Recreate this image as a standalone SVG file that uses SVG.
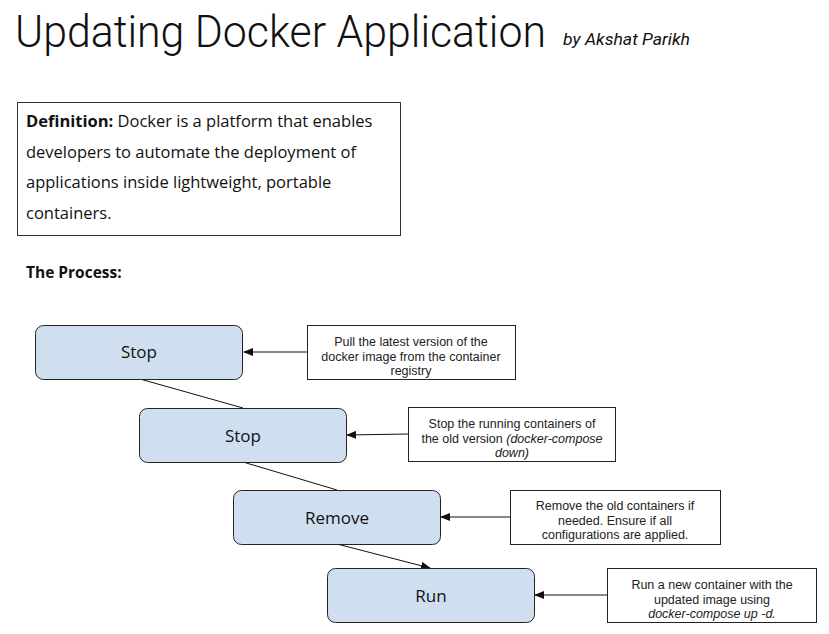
<svg xmlns="http://www.w3.org/2000/svg" width="829" height="634" viewBox="0 0 829 634">
<style>
text{font-family:"Open Sans","Noto Sans",sans-serif;fill:#111}
.node rect{fill:#cfdff0;stroke:#222;stroke-width:1}
.node text{font-size:17px;text-anchor:middle}
.note rect{fill:#fff;stroke:#222;stroke-width:1}
.note text{font-family:"Liberation Sans",Arial,sans-serif;font-size:12.5px;text-anchor:middle;fill:#222}
.conn line{stroke:#111;stroke-width:1}
</style>
<defs>
<marker id="ah" markerWidth="10" markerHeight="8" refX="9" refY="4" orient="auto" markerUnits="userSpaceOnUse">
<path d="M0,0 L10,4 L0,8 Z" fill="#111"/>
</marker>
</defs>
<rect width="829" height="634" fill="#fff"/>
<text x="15" y="47" font-size="44" font-weight="300" textLength="531" lengthAdjust="spacingAndGlyphs" style="font-family:Roboto,'Open Sans',sans-serif">Updating Docker Application</text>
<text x="563" y="45" font-size="16" font-style="italic" textLength="127" lengthAdjust="spacingAndGlyphs" fill="#333" style="font-family:Roboto,sans-serif">by Akshat Parikh</text>
<g id="definition">
<rect x="17.5" y="102.5" width="383" height="133" fill="#fff" stroke="#333"/>
<text x="26" y="127" font-size="16.5"><tspan font-weight="bold">Definition:</tspan> Docker is a platform that enables</text>
<text x="26" y="158" font-size="16.5">developers to automate the deployment of</text>
<text x="26" y="188" font-size="16.5">applications inside lightweight, portable</text>
<text x="26" y="219" font-size="16.5">containers.</text>
</g>
<text x="26" y="278" font-size="15.5" font-weight="bold">The Process:</text>
<g class="conn">
<line x1="140" y1="379" x2="243" y2="408"/>
<line x1="243" y1="462" x2="337" y2="490"/>
<line x1="337" y1="544" x2="430" y2="568" marker-end="url(#ah)"/>
<line x1="307" y1="352" x2="244" y2="352" marker-end="url(#ah)"/>
<line x1="408" y1="434" x2="347" y2="435" marker-end="url(#ah)"/>
<line x1="510" y1="517" x2="441" y2="517" marker-end="url(#ah)"/>
<line x1="607" y1="595" x2="535" y2="595" marker-end="url(#ah)"/>
</g>
<g id="n1" class="node"><rect x="35.5" y="325.5" width="207" height="54" rx="8"/><text x="139" y="358">Stop</text></g>
<g id="n2" class="node"><rect x="139.5" y="408.5" width="207" height="54" rx="8"/><text x="243" y="442">Stop</text></g>
<g id="n3" class="node"><rect x="233.5" y="490.5" width="207" height="54" rx="8"/><text x="337" y="524">Remove</text></g>
<g id="n4" class="node"><rect x="327.5" y="568.5" width="207" height="54" rx="8"/><text x="431" y="602">Run</text></g>
<g id="note1" class="note"><rect x="307.5" y="325.5" width="208" height="54"/>
<text x="411" y="346">Pull the latest version of the</text>
<text x="411" y="361">docker image from the container</text>
<text x="411" y="375">registry</text></g>
<g id="note2" class="note"><rect x="408.5" y="407.5" width="207" height="54"/>
<text x="512" y="428">Stop the running containers of</text>
<text x="512" y="443">the old version <tspan font-style="italic">(docker-compose</tspan></text>
<text x="512" y="457" font-style="italic">down)</text></g>
<g id="note3" class="note"><rect x="510.5" y="490.5" width="210" height="54"/>
<text x="615" y="510">Remove the old containers if</text>
<text x="615" y="525">needed. Ensure if all</text>
<text x="615" y="539">configurations are applied.</text></g>
<g id="note4" class="note"><rect x="607.5" y="568.5" width="209" height="54"/>
<text x="712" y="589">Run a new container with the</text>
<text x="712" y="604">updated image using</text>
<text x="712" y="618" font-style="italic">docker-compose up -d.</text></g>
</svg>
